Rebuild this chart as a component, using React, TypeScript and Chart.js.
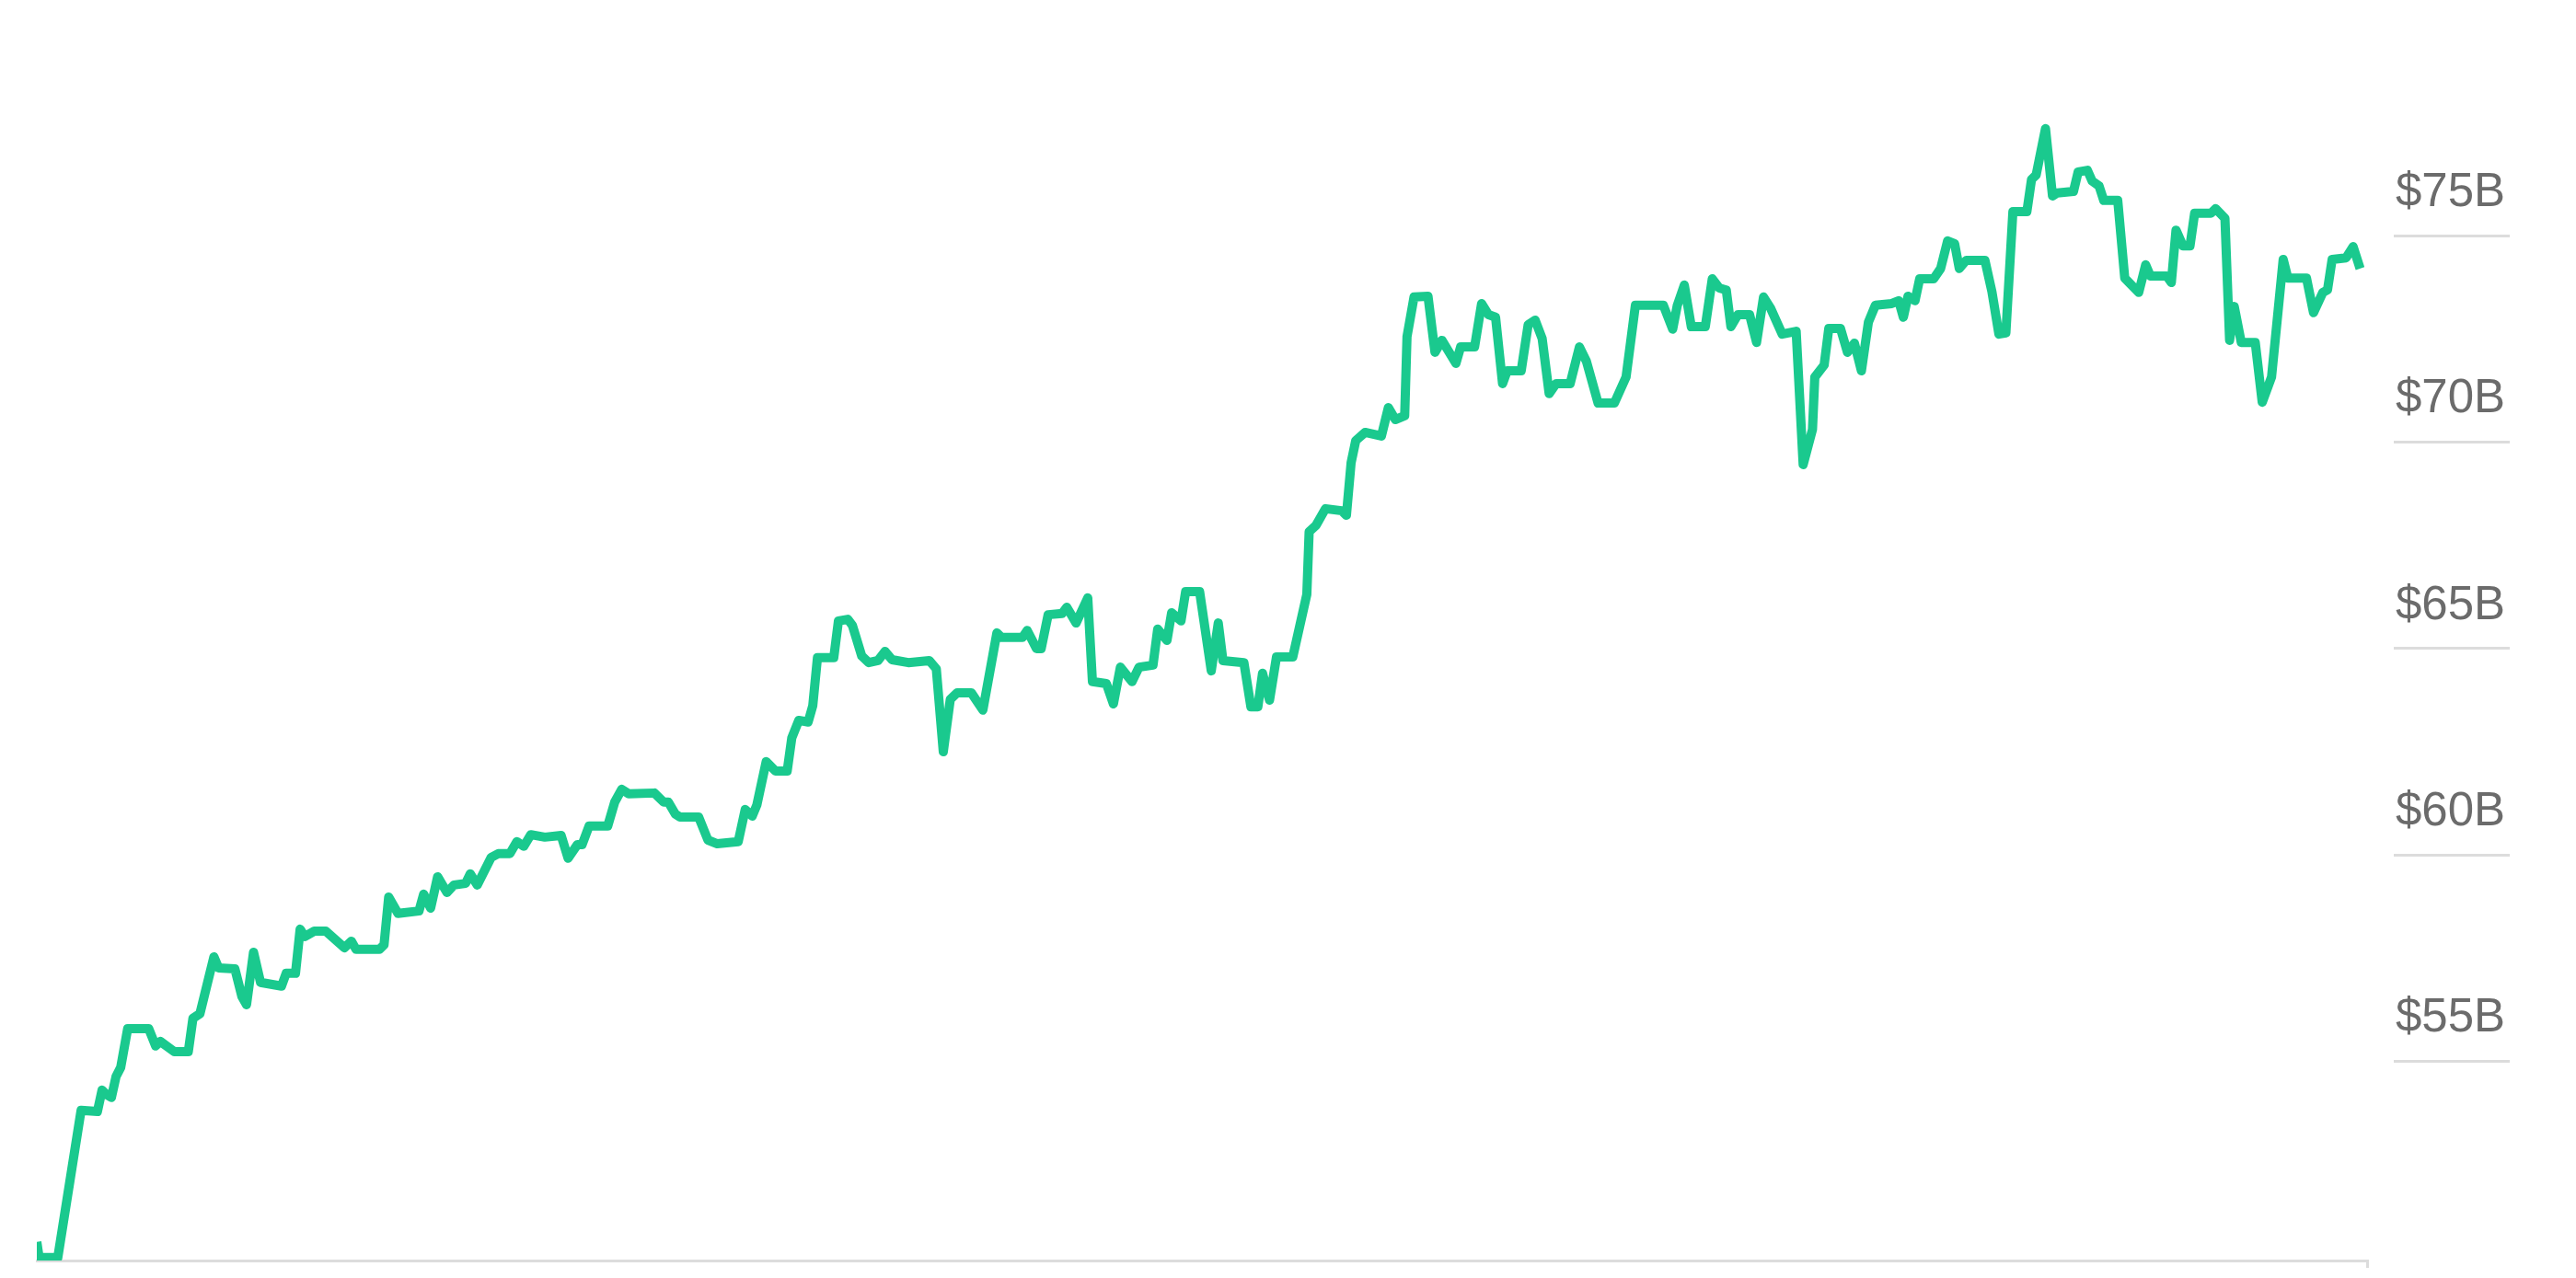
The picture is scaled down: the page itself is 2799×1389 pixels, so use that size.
import React, { useEffect, useRef } from "react";
import { Chart, registerables } from "chart.js";

Chart.register(...registerables);

// Trading-session index (0..1000 spans the plotted period)
const days = [
  0, 1, 9, 19, 26, 28, 30, 32, 34, 36, 39, 48, 51, 53, 59, 65, 67, 70, 76, 78, 85, 88, 90, 93, 96, 105, 107, 111, 113, 115, 119, 124, 132, 135, 137, 147, 149, 151, 155,
  164, 166, 169, 172, 176, 179, 184, 186, 189, 195, 198, 203, 206, 209, 212, 218, 225, 228, 232, 234, 237, 245, 248, 251, 254, 265, 269, 271, 274, 276, 284, 288, 292, 301,
  304, 307, 309, 313, 317, 322, 324, 327, 331, 333, 335, 342, 344, 348, 350, 354, 357, 361, 364, 367, 374, 383, 386, 389, 392, 395, 401, 406, 412, 414, 423, 425, 429, 431, 434, 440, 442, 446, 451,
  453, 459, 462, 465, 470, 473, 479, 481, 485, 487, 491, 493, 499, 504, 507, 509, 518, 521, 524, 526, 529, 532, 539, 545, 546, 549, 553, 560, 562, 564, 566, 570, 577, 580, 583, 587, 588, 591, 597, 600,
  603, 609, 611, 617, 620, 623, 626, 629, 631, 637, 640, 643, 646, 649, 652, 658, 662, 665, 670, 677, 682, 686, 698, 702, 704, 707, 710, 716, 719, 722, 725, 727, 730, 735, 738, 741, 744, 749,
  755, 758, 762, 763, 767, 769, 774, 777, 780, 783, 786, 789, 796, 799, 801, 803, 806, 808, 814, 817, 820, 823, 825, 828, 836, 839, 842, 845, 848, 854, 856, 858, 862, 865, 867, 874, 876, 880, 882, 885, 887, 893,
  896, 902, 905, 907, 914, 916, 918, 921, 924, 926, 933, 935, 939, 941, 943, 946, 952, 955, 959, 964, 966, 974, 977, 981, 983, 985, 991, 994, 997,
];

// Value in billions of dollars
const values = [
  50.61, 50.23, 50.23, 53.8, 53.77, 54.29, 54.18, 54.11, 54.62, 54.84, 55.78, 55.78, 55.36, 55.47, 55.22, 55.22, 56.03, 56.14, 57.52, 57.25, 57.23, 56.56, 56.36, 57.63, 56.9, 56.81, 57.12, 57.12, 58.19, 58.01, 58.14, 58.14, 57.74, 57.9, 57.7, 57.7, 57.81, 58.97, 58.57,
  58.63, 59.04, 58.7, 59.46, 59.08, 59.26, 59.3, 59.53, 59.26, 59.93, 60.02, 60.02, 60.31, 60.2, 60.48, 60.42, 60.46, 59.91, 60.24, 60.24, 60.69, 60.69, 61.27, 61.58, 61.47, 61.49, 61.27, 61.27, 60.98, 60.91, 60.91, 60.35, 60.26, 60.31,
  61.09, 60.93, 61.2, 62.25, 62.02, 62.02, 62.83, 63.25, 63.21, 63.61, 64.77, 64.77, 65.66, 65.7, 65.55, 64.81, 64.65, 64.7, 64.92, 64.72, 64.65, 64.7, 64.5, 62.49, 63.76, 63.92, 63.92, 63.5, 65.37, 65.26, 65.26, 65.43, 64.99, 64.99, 65.81, 65.84, 65.99, 65.61, 66.22,
  64.19, 64.14, 63.65, 64.54, 64.19, 64.54, 64.59, 65.46, 65.19, 65.86, 65.66, 66.37, 66.37, 64.45, 65.61, 64.7, 64.65, 63.58, 63.58, 64.39, 63.74, 64.79, 64.79, 66.3, 67.82, 67.98, 68.38, 68.33, 68.22, 69.49, 70.03, 70.23, 70.14, 70.83, 70.54, 70.63, 72.55, 73.51, 73.53, 72.17,
  72.46, 71.9, 72.3, 72.3, 73.35, 73.08, 73.02, 71.41, 71.72, 71.72, 72.84, 72.95, 72.5, 71.17, 71.41, 71.41, 72.3, 71.95, 70.94, 70.94, 71.57, 73.31, 73.31, 72.73, 73.31, 73.8, 72.79, 72.79, 73.95, 73.73, 73.68, 72.79, 73.08, 73.08, 72.41, 73.51, 73.24, 72.61,
  72.68, 69.45, 70.3, 71.57, 71.86, 72.75, 72.75, 72.17, 72.39, 71.72, 72.9, 73.31, 73.35, 73.42, 73.02, 73.53, 73.42, 73.95, 73.95, 74.2, 74.87, 74.8, 74.2, 74.4, 74.4, 73.64, 72.61, 72.64, 75.58, 75.58, 76.36, 76.47, 77.59, 75.96, 76.03, 76.07, 76.54, 76.58, 76.32, 76.2, 75.85, 75.85,
  73.97, 73.62, 74.29, 74.02, 74.02, 73.86, 75.13, 74.75, 74.75, 75.54, 75.54, 75.65, 75.42, 72.46, 73.28, 72.41, 72.41, 70.96, 71.57, 74.42, 73.97, 73.97, 73.13, 73.62, 73.68, 74.42, 74.46, 74.73, 74.2,
];

const yTickValues = [55, 60, 65, 70, 75];
const yMin = 50.16;
const yMax = 78.255;
const dayMin = 0;
const dayMax = 1000;

const GREEN = "#1ac98e";
const AXIS_GRAY = "#dcdcdc";
const LABEL_GRAY = "#6b6b6b";

const shortGridPlugin = {
  id: "shortGrid",
  afterDraw(chart: any) {
    const y = chart.scales.y;
    const { ctx, chartArea } = chart;
    ctx.save();
    ctx.strokeStyle = AXIS_GRAY;
    ctx.lineWidth = 3;
    y.ticks.forEach((t: any) => {
      const py = Math.round(y.getPixelForValue(t.value)) + 0.5;
      ctx.beginPath();
      ctx.moveTo(chartArea.right + 29, py);
      ctx.lineTo(chartArea.right + 155, py);
      ctx.stroke();
    });
    ctx.restore();
  },
};

const noPadding = (s: any) => {
  s.paddingTop = 0;
  s.paddingBottom = 0;
  s.paddingLeft = 0;
  s.paddingRight = 0;
};

export default function App() {
  const canvasRef = useRef<HTMLCanvasElement | null>(null);

  useEffect(() => {
    if (!canvasRef.current) return;
    const data = days.map((d, i) => ({ x: d, y: values[i] }));
    const chart = new Chart(canvasRef.current, {
      type: "line",
      data: {
        datasets: [
          {
            data,
            borderColor: GREEN,
            borderWidth: 10,
            borderJoinStyle: "round",
            pointRadius: 0,
            tension: 0,
            fill: false,
          },
        ],
      },
      options: {
        animation: false,
        responsive: true,
        maintainAspectRatio: false,
        layout: { padding: { left: 32, top: 102, right: 0, bottom: 1 } },
        plugins: {
          legend: { display: false },
          tooltip: { enabled: false },
        },
        scales: {
          x: {
            type: "linear",
            min: dayMin,
            max: dayMax,
            afterBuildTicks: (s: any) => {
              s.ticks = [{ value: dayMax }];
            },
            afterFit: (s: any) => {
              s.height = 10;
              noPadding(s);
            },
            grid: {
              display: true,
              drawOnChartArea: false,
              drawTicks: true,
              tickLength: 8,
              color: AXIS_GRAY,
              lineWidth: 3,
            },
            border: { display: true, color: AXIS_GRAY, width: 3 },
            ticks: { display: false },
          },
          y: {
            type: "linear",
            position: "right",
            min: yMin,
            max: yMax,
            afterBuildTicks: (s: any) => {
              s.ticks = yTickValues.map((v) => ({ value: v }));
            },
            afterFit: (s: any) => {
              s.width = 219;
              noPadding(s);
            },
            grid: { display: false, drawTicks: false },
            border: { display: false },
            ticks: {
              padding: 31,
              labelOffset: -46,
              color: LABEL_GRAY,
              font: { family: "'Liberation Sans', Arial, sans-serif", size: 51 },
              callback: (v: any) => "$" + v + "B",
            },
          },
        },
      },
      plugins: [shortGridPlugin],
    });
    return () => chart.destroy();
  }, []);

  return (
    <div style={{ position: "relative", width: "2783px", height: "1373px" }}>
      <canvas ref={canvasRef} />
    </div>
  );
}
